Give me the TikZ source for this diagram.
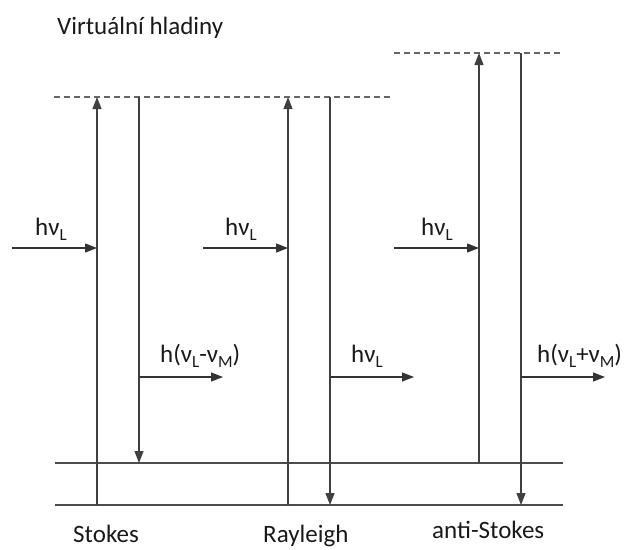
\documentclass[tikz,border=0pt]{standalone}
\usepackage{fontspec}
\setmainfont{Carlito}
\usetikzlibrary{arrows.meta}
\newcommand\lowsub[1]{\raisebox{-5pt}{\fontsize{17}{17}\selectfont #1}}
\begin{document}
\begin{tikzpicture}[x=1pt,y=-1pt,
  lvl/.style={line width=1.3pt,draw=black!70},
  vlvl/.style={line width=1.8pt,draw=black!60,dash pattern=on 6pt off 4pt},
  trans/.style={line width=1.2pt,draw=black!75,-{Triangle[length=12pt,width=9pt]}},
  photon/.style={line width=1.3pt,draw=black!80,-{Triangle[length=12pt,width=9pt]}},
  lab/.style={font=\fontsize{25}{30}\selectfont,text=black!90,inner sep=0pt},
]
\useasboundingbox (0,0) rectangle (631,549);
% levels
\coordinate (g1a) at (55,463); \coordinate (g1b) at (563,463);
\coordinate (g0a) at (55,505); \coordinate (g0b) at (563,505);
\coordinate (v1a) at (54,97);  \coordinate (v1b) at (392,97);
\coordinate (v2a) at (394,53); \coordinate (v2b) at (560,53);
\draw[lvl] (g1a) -- (g1b);
\draw[lvl] (g0a) -- (g0b);
\draw[vlvl] (v1a) -- (v1b);
\draw[vlvl] (v2a) -- (v2b);
% Stokes
\coordinate (s1) at (97,505); \coordinate (s2) at (97,97);
\coordinate (s3) at (139,97); \coordinate (s4) at (139,463);
\draw[trans] (s1) -- (s2);
\draw[trans] (s3) -- (s4);
% Rayleigh
\coordinate (r1) at (288,505); \coordinate (r2) at (288,97);
\coordinate (r3) at (330,97); \coordinate (r4) at (330,505);
\draw[trans] (r1) -- (r2);
\draw[trans] (r3) -- (r4);
% anti-Stokes
\coordinate (a1) at (479,463); \coordinate (a2) at (479,53);
\coordinate (a3) at (521,53); \coordinate (a4) at (521,505);
\draw[trans] (a1) -- (a2);
\draw[trans] (a3) -- (a4);
% incoming photons
\coordinate (in1) at (12,248); \coordinate (in1e) at (97,248);
\coordinate (in2) at (203,248); \coordinate (in2e) at (288,248);
\coordinate (in3) at (394,248); \coordinate (in3e) at (479,248);
\draw[photon] (in1) -- (in1e);
\draw[photon] (in2) -- (in2e);
\draw[photon] (in3) -- (in3e);
% outgoing photons
\coordinate (o1) at (139,377); \coordinate (o1e) at (223,377);
\coordinate (o2) at (330,377); \coordinate (o2e) at (414,377);
\coordinate (o3) at (521,377); \coordinate (o3e) at (605,377);
\draw[photon] (o1) -- (o1e);
\draw[photon] (o2) -- (o2e);
\draw[photon] (o3) -- (o3e);
% labels
\node[lab,anchor=base west] (title) at (57,34) {Virtuální hladiny};
\node[lab,anchor=base west] (li1) at (35,235) {hν\lowsub{L}};
\node[lab,anchor=base west] (li2) at (225,235) {hν\lowsub{L}};
\node[lab,anchor=base west] (li3) at (421,235) {hν\lowsub{L}};
\node[lab,anchor=base west] (lo1) at (160,362) {h(ν\lowsub{L}-ν\lowsub{M})};
\node[lab,anchor=base west] (lo2) at (351,362) {hν\lowsub{L}};
\node[lab,anchor=base west] (lo3) at (537,362) {h(ν\lowsub{L}+ν\lowsub{M})};
\node[lab,anchor=base west] (ls) at (73,542) {Stokes};
\node[lab,anchor=base west] (lr) at (263,542) {Rayleigh};
\node[lab,anchor=base west] (la) at (432,538) {anti-Stokes};
\end{tikzpicture}
\end{document}
